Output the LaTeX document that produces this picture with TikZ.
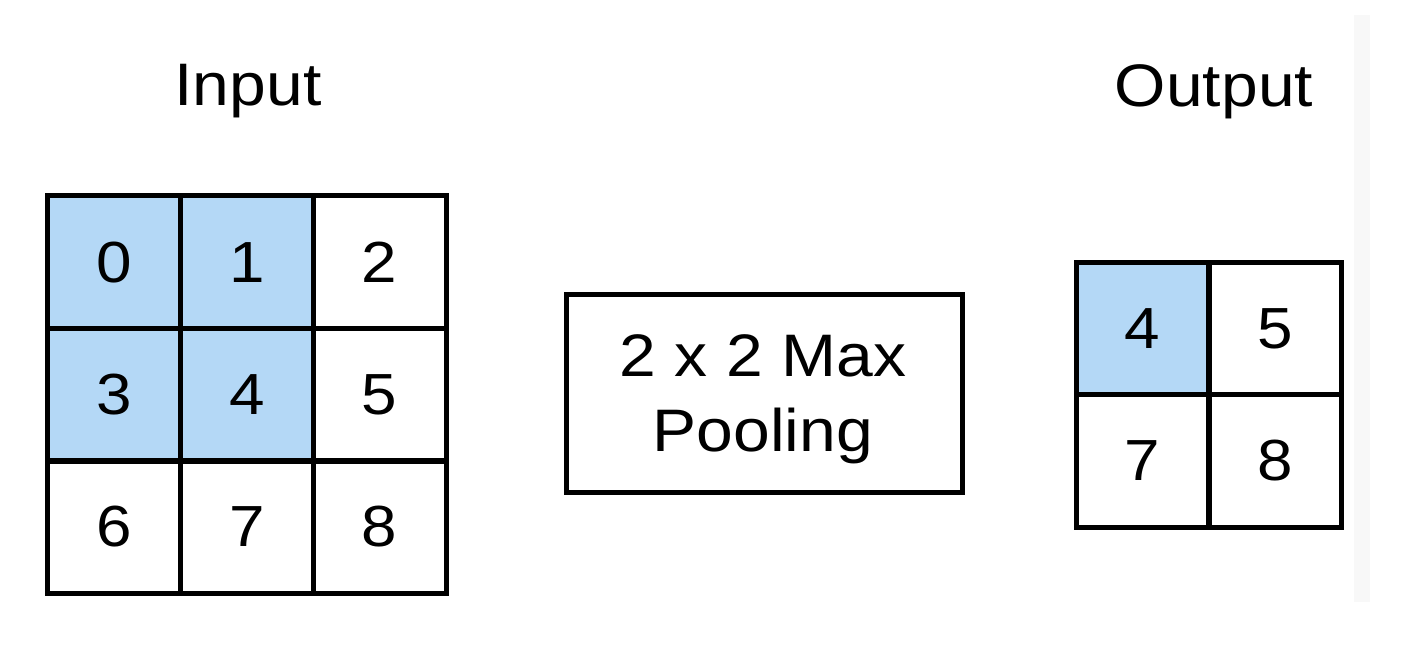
\documentclass[tikz,border=0pt]{standalone}
\usepackage{fontspec}
\setmainfont{Liberation Sans}
\newfontfamily\widefont[FakeStretch=1.1]{Liberation Sans}
\definecolor{cellblue}{RGB}{180,216,246}
\definecolor{bandgray}{RGB}{248,248,248}
\begin{document}
\begin{tikzpicture}[x=1pt,y=-1pt,
  cell/.style={draw=black,line width=5pt,minimum width=132.7pt,minimum height=132.7pt,inner sep=0pt,anchor=center,font=\widefont\fontsize{58}{60}\selectfont},
  hot/.style={cell,fill=cellblue},
  label/.style={font=\widefont\fontsize{60}{70}\selectfont,anchor=base},
  pooltext/.style={font=\widefont\fontsize{60}{66}\selectfont,anchor=base,inner sep=0pt},
  poolbox/.style={draw=black,line width=5pt,minimum width=396pt,minimum height=198pt,inner sep=0pt}]
\useasboundingbox[fill=white] (0,0) rectangle (1410,646);
\fill[bandgray] (1354,15) rectangle (1370,602);
% Input grid
\node[hot]  (i0) at (114.3,262.3) {0};
\node[hot]  (i1) at (247,262.3) {1};
\node[cell] (i2) at (379.7,262.3) {2};
\node[hot]  (i3) at (114.3,394.7) {3};
\node[hot]  (i4) at (247,394.7) {4};
\node[cell] (i5) at (379.7,394.7) {5};
\node[cell] (i6) at (114.3,527) {6};
\node[cell] (i7) at (247,527) {7};
\node[cell] (i8) at (379.7,527) {8};
\node[label] (inlab) at (248,105) {Input};
% Pooling box
\node[poolbox] (pool) at (764,393) {};
\node[pooltext] (pt1) at (763,376) {2 x 2 Max};
\node[pooltext] (pt2) at (763,451) {Pooling};
% Output grid
\node[hot]  (o4) at (1142.5,328.5) {4};
\node[cell] (o5) at (1275.5,328.5) {5};
\node[cell] (o7) at (1142.5,461) {7};
\node[cell] (o8) at (1275.5,461) {8};
\node[label] (outlab) at (1214,106) {Output};
\end{tikzpicture}
\end{document}
